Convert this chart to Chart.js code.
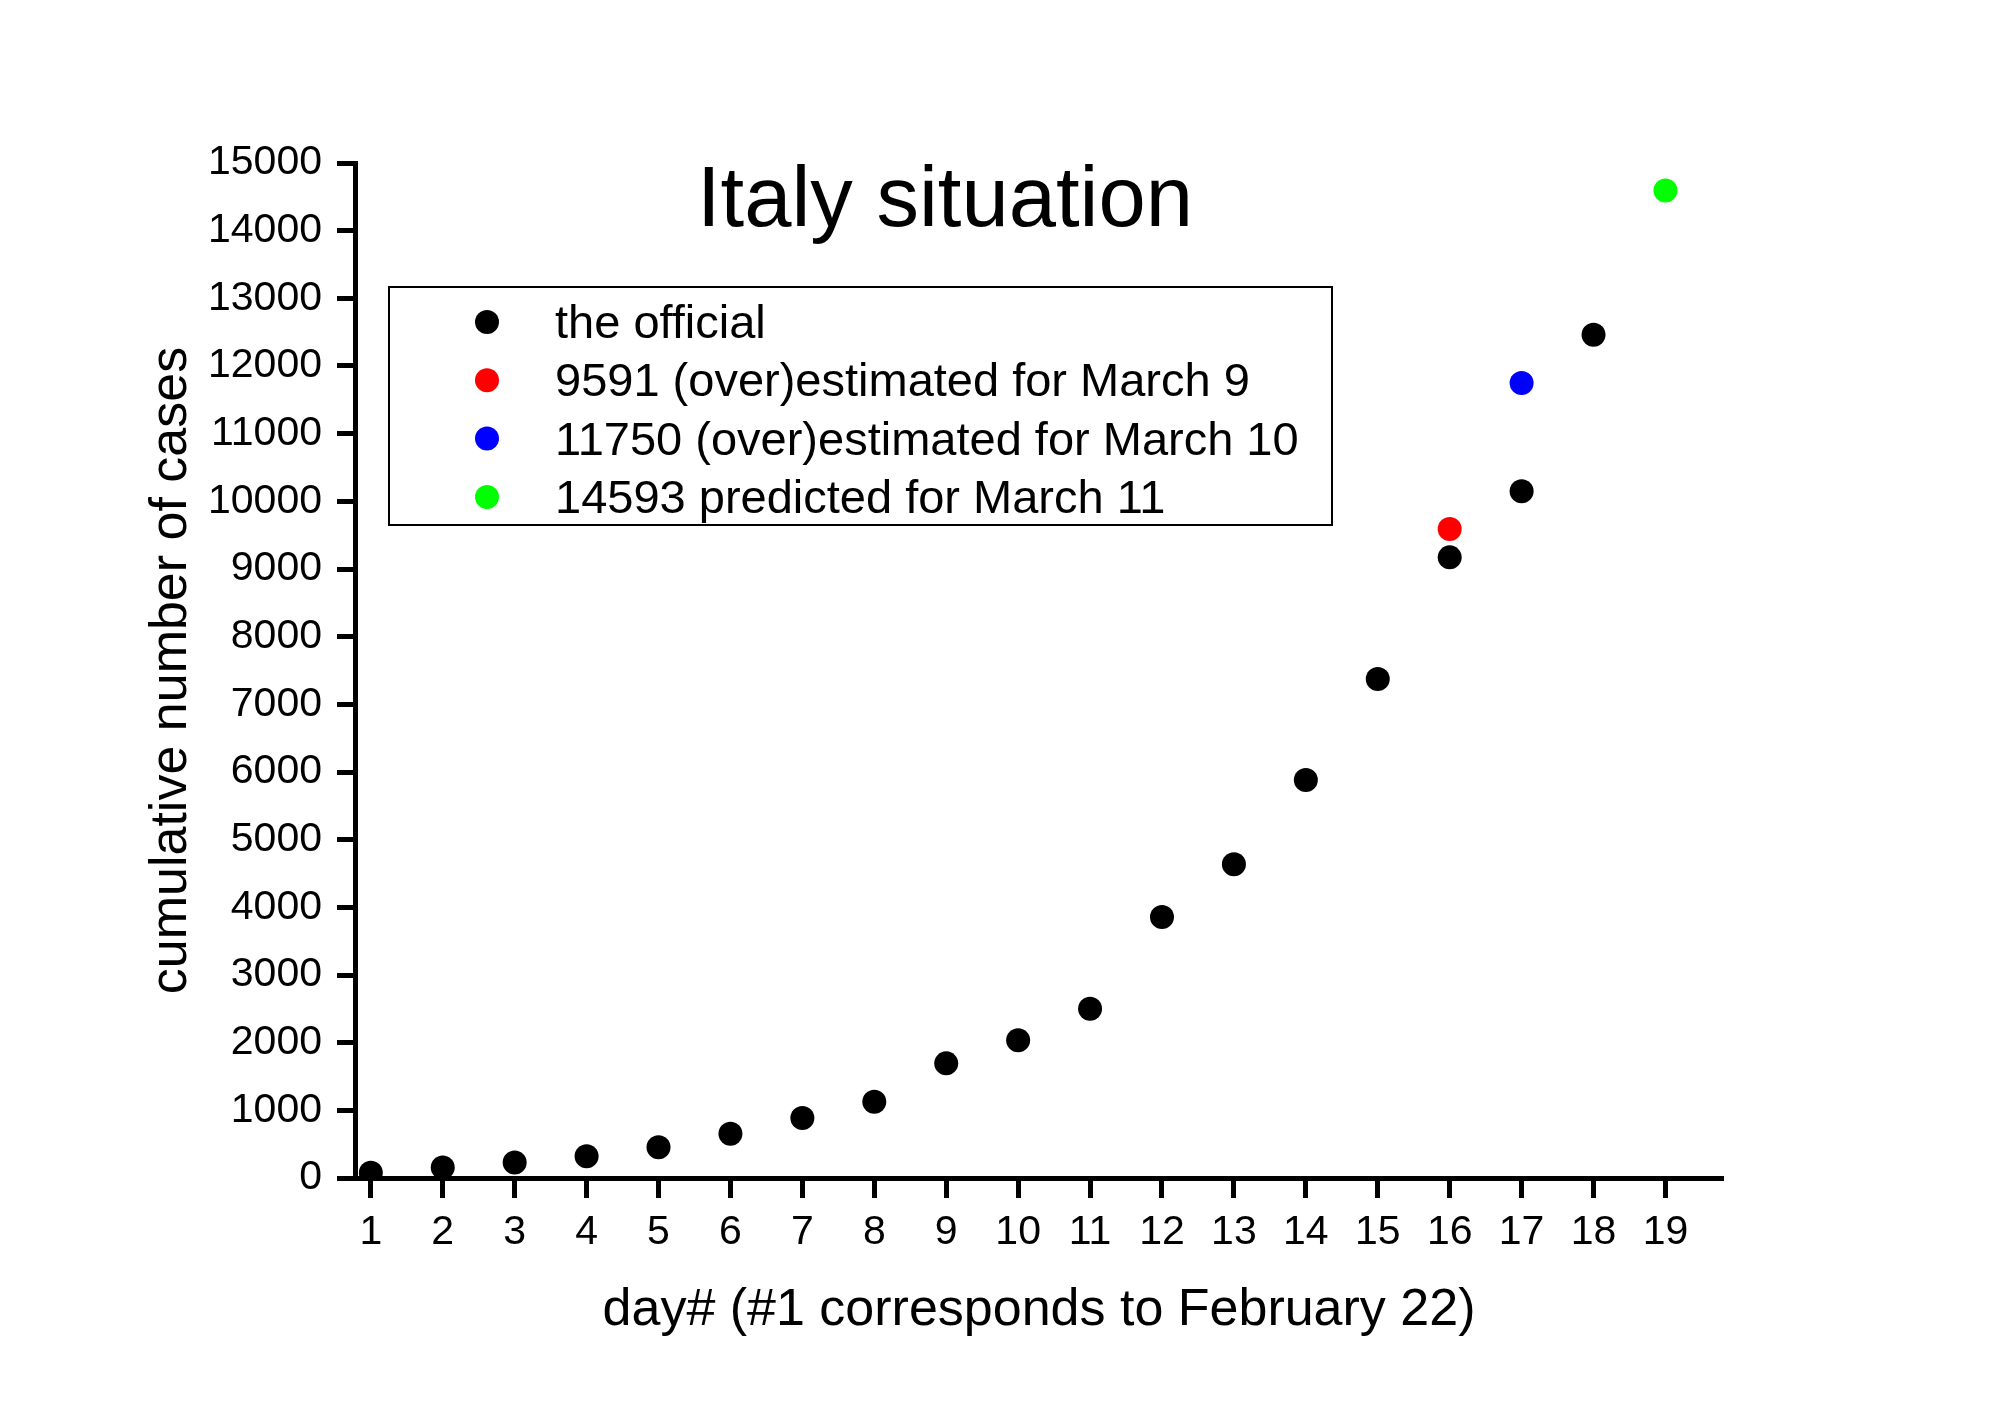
<!DOCTYPE html>
<html>
<head>
<meta charset="utf-8">
<script src="https://cdn.jsdelivr.net/npm/chart.js@4"></script>
<style>
  html, body { margin: 0; padding: 0; background: #fff; }
  #wrap { width: 2000px; height: 1413px; }
</style>
</head>
<body>
<div id="wrap"><canvas id="italyChart" width="2000" height="1413"></canvas></div>
<script>
// day numbers (#1 = February 22) and cumulative case counts
const officialDays = [1, 2, 3, 4, 5, 6, 7, 8, 9, 10, 11, 12, 13, 14, 15, 16, 17, 18];
const officialCases = [79, 155, 229, 322, 453, 655, 888, 1128, 1694, 2036, 2502, 3858, 4636, 5883, 7375, 9172, 10149, 12462];
const estMar9 = [{ x: 16, y: 9591 }];
const estMar10 = [{ x: 17, y: 11750 }];
const predMar11 = [{ x: 19, y: 14593 }];
const xTicks = [1, 2, 3, 4, 5, 6, 7, 8, 9, 10, 11, 12, 13, 14, 15, 16, 17, 18, 19];
const yTicks = [0, 1000, 2000, 3000, 4000, 5000, 6000, 7000, 8000, 9000, 10000, 11000, 12000, 13000, 14000, 15000];

const FONT = "'Liberation Sans', Arial, sans-serif";

// title and boxed legend drawn inside the plot area
const insideText = {
    id: 'insideText',
    afterDraw(chart) {
        const { ctx, chartArea } = chart;
        ctx.save();
        ctx.fillStyle = '#000';
        ctx.font = '85px ' + FONT;
        ctx.textAlign = 'center';
        ctx.textBaseline = 'alphabetic';
        ctx.fillText('Italy situation', chartArea.left + 590, chartArea.top + 63);

        const bx = chartArea.left + 34, by = chartArea.top + 124;
        const bw = 943, bh = 238;
        ctx.fillStyle = '#fff';
        ctx.fillRect(bx, by, bw, bh);
        ctx.strokeStyle = '#000';
        ctx.lineWidth = 2;
        ctx.strokeRect(bx, by, bw, bh);

        ctx.font = '47px ' + FONT;
        ctx.textAlign = 'left';
        ctx.textBaseline = 'middle';
        chart.data.datasets.forEach((ds, i) => {
            const ry = by + 35 + i * 58.3;
            ctx.beginPath();
            ctx.arc(bx + 98, ry, 12, 0, Math.PI * 2);
            ctx.fillStyle = ds.backgroundColor;
            ctx.fill();
            ctx.fillStyle = '#000';
            ctx.fillText(ds.label, bx + 166, ry + 3);
        });
        ctx.restore();
    }
};

new Chart(document.getElementById('italyChart'), {
    type: 'scatter',
    data: {
        datasets: [
            {
                label: 'the official',
                data: officialDays.map((d, i) => ({ x: d, y: officialCases[i] })),
                backgroundColor: '#000000'
            },
            {
                label: '9591 (over)estimated for March 9',
                data: estMar9,
                backgroundColor: '#ff0000'
            },
            {
                label: '11750 (over)estimated for March 10',
                data: estMar10,
                backgroundColor: '#0000ff'
            },
            {
                label: '14593 predicted for March 11',
                data: predMar11,
                backgroundColor: '#00ff00'
            }
        ]
    },
    options: {
        responsive: false,
        animation: false,
        events: [],
        elements: {
            point: { radius: 12, hoverRadius: 12, borderWidth: 0 }
        },
        layout: {
            padding: { top: 163, right: 277, bottom: 0, left: 0 }
        },
        scales: {
            x: {
                type: 'linear',
                position: 'bottom',
                min: 0.78,
                max: 19.8,
                afterBuildTicks: scale => { scale.ticks = xTicks.map(v => ({ value: v })); },
                afterFit: scale => { scale.height = 235; },
                border: { color: '#000', width: 5 },
                grid: { drawOnChartArea: false, tickLength: 20, tickWidth: 5, tickColor: '#000', color: '#000' },
                ticks: {
                    color: '#000',
                    font: { family: FONT, size: 41 },
                    padding: 10,
                    maxRotation: 0,
                    autoSkip: false,
                    callback: v => String(v)
                },
                title: {
                    display: true,
                    text: 'day# (#1 corresponds to February 22)',
                    color: '#000',
                    font: { family: FONT, size: 52 },
                    padding: { top: 0, bottom: 71 }
                }
            },
            y: {
                type: 'linear',
                min: 0,
                max: 15000,
                afterBuildTicks: scale => { scale.ticks = yTicks.map(v => ({ value: v })); },
                afterFit: scale => { scale.width = 355; },
                border: { color: '#000', width: 5 },
                grid: { drawOnChartArea: false, tickLength: 18, tickWidth: 5, tickColor: '#000', color: '#000' },
                ticks: {
                    color: '#000',
                    font: { family: FONT, size: 41 },
                    padding: 15,
                    autoSkip: false,
                    callback: v => String(v)
                },
                title: {
                    display: true,
                    text: 'cumulative number of cases',
                    color: '#000',
                    font: { family: FONT, size: 52 },
                    padding: { top: 140, bottom: 0 }
                }
            }
        },
        plugins: {
            legend: { display: false },
            tooltip: { enabled: false }
        }
    },
    plugins: [insideText]
});
</script>
</body>
</html>
